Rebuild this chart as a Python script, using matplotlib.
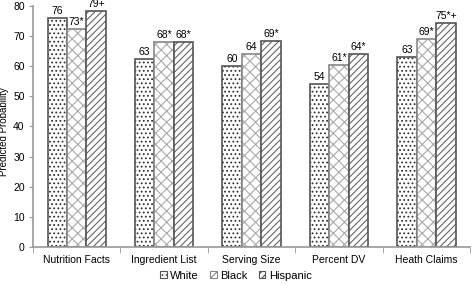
import matplotlib
matplotlib.use("Agg")
import matplotlib.pyplot as plt
import numpy as np

plt.rcParams['font.family'] = ['Liberation Sans', 'DejaVu Sans']
plt.rcParams['hatch.linewidth'] = 0.8

categories = ["Nutrition Facts", "Ingredient List", "Serving Size", "Percent DV", "Heath Claims"]
series = ["White", "Black", "Hispanic"]
white = [76, 62.5, 60, 54, 63]
black = [72.5, 68, 64, 60.5, 69]
hispanic = [78.5, 68, 68.5, 64, 74.5]
white_labels = ["76", "63", "60", "54", "63"]
black_labels = ["73*", "68*", "64", "61*", "69*"]
hispanic_labels = ["79+", "68*", "69*", "64*", "75*+"]

fig = plt.figure(figsize=(4.72, 2.85), dpi=100)
ax = fig.add_axes([0.07, 0.134, 0.926, 0.845])

x = np.arange(len(categories))
w = 0.223
styles = [
    dict(hatch='....', edgecolor='#555555', hc='#333333'),
    dict(hatch='xxx', edgecolor='#888888', hc='#aaaaaa'),
    dict(hatch='/////', edgecolor='#555555', hc='#666666'),
]
data = [white, black, hispanic]
labels = [white_labels, black_labels, hispanic_labels]
handles = []
for i, (vals, lab, st) in enumerate(zip(data, labels, styles)):
    pos = x + (i - 1) * w
    ax.bar(pos, vals, w, facecolor='white', edgecolor=st['hc'], hatch=st['hatch'],
           linewidth=0)
    ax.bar(pos, vals, w, facecolor='none', edgecolor=st['edgecolor'], linewidth=1.2)
    for p, v, t in zip(pos, vals, lab):
        ax.text(p, v + 0.6, t, ha='center', va='bottom', fontsize=7.5, clip_on=False)
    h = plt.Rectangle((0, 0), 1, 1, facecolor='white', edgecolor=st['edgecolor'],
                      hatch=st['hatch'], linewidth=0.8)
    handles.append(h)

ax.set_xlim(-0.5, len(categories) - 0.5)
ax.set_ylim(0, 80)
ax.set_yticks(range(0, 81, 10))
ax.set_xticks(x)
ax.set_xticklabels(categories, fontsize=7.5)
ax.set_xticks(np.arange(-0.5, len(categories), 1), minor=True)
ax.tick_params(axis='x', which='major', length=0, pad=6)
ax.tick_params(axis='x', which='minor', length=4, color='#999999', direction='out')
ax.tick_params(axis='y', labelsize=7.5, length=3, color='#999999', pad=3)
ax.set_ylabel("Predicted Probability", fontsize=7)
ax.yaxis.set_label_coords(-0.054, 0.48)
for s in ['top', 'right']:
    ax.spines[s].set_visible(False)
for s in ['left', 'bottom']:
    ax.spines[s].set_color('#999999')
    ax.spines[s].set_linewidth(1.2)

fig.legend(handles, series, loc='center', bbox_to_anchor=(0.5, 0.033), ncol=3, frameon=False,
           fontsize=8, handlelength=0.6, handleheight=0.6, handletextpad=0.3,
           columnspacing=1.0, borderaxespad=0, borderpad=0)
fig.savefig("out.png", dpi=100)
